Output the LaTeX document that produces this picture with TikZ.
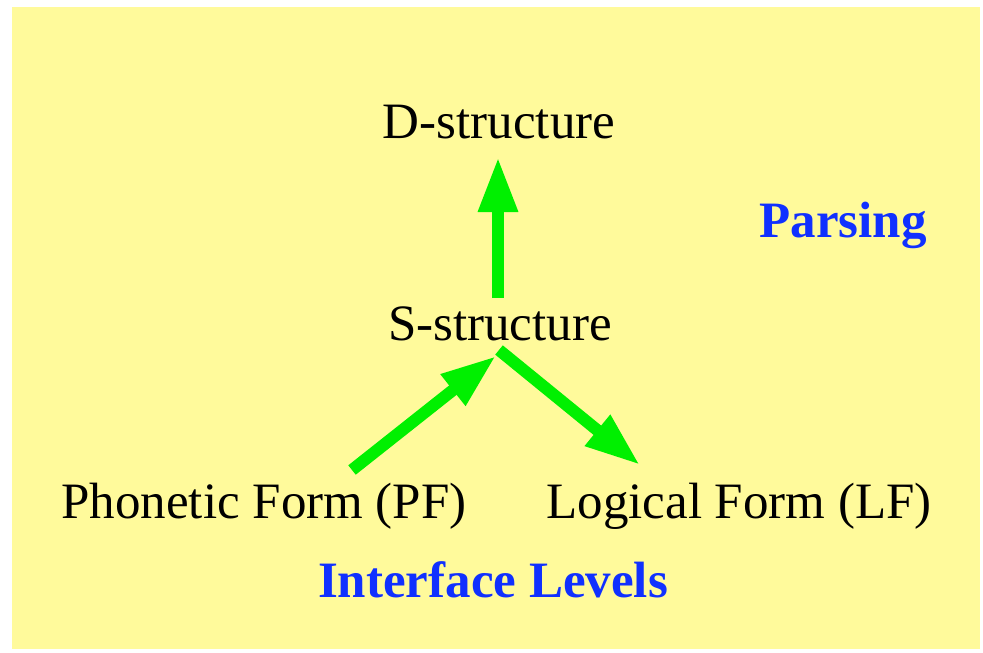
\documentclass[tikz,border=0pt]{standalone}
\usepackage{fontspec}
\setmainfont{Liberation Serif}
\usetikzlibrary{arrows.meta}
\definecolor{bgyellow}{RGB}{255,250,155}
\definecolor{arrowgreen}{RGB}{0,240,0}
\definecolor{labelblue}{RGB}{16,48,255}
\tikzset{
  level/.style={anchor=base, inner sep=0pt, font=\fontsize{51}{60}\selectfont},
  tag/.style={anchor=base, inner sep=0pt, text=labelblue, font=\fontsize{51}{60}\selectfont\bfseries},
  flow/.style={arrowgreen, line width=12pt,
    -{Triangle[length=55pt, width=37pt]}}
}
\begin{document}
\begin{tikzpicture}[x=1pt,y=-1pt]
\useasboundingbox (0,0) rectangle (983,653);
\fill[bgyellow] (12,7) rectangle (980,649);
\node[level] (D) at (499,138) {D-structure};
\node[level] (S) at (500,340) {S-structure};
\node[level] (PF) at (264,518) {Phonetic Form (PF)};
\node[level] (LF) at (739,518) {Logical Form (LF)};
\node[tag] (parsing) at (843,237) {Parsing};
\node[tag] (interface) at (493,597) {Interface Levels};
\coordinate (sTop) at (498,298);
\coordinate (dBot) at (498,157);
\coordinate (pfTop) at (352,470);
\coordinate (sBot) at (496,356);
\coordinate (sBotR) at (499,350);
\coordinate (lfTop) at (640,465);
\draw[flow] (sTop) -- (dBot);
\draw[flow] (pfTop) -- (sBot);
\draw[flow] (sBotR) -- (lfTop);
\end{tikzpicture}
\end{document}
